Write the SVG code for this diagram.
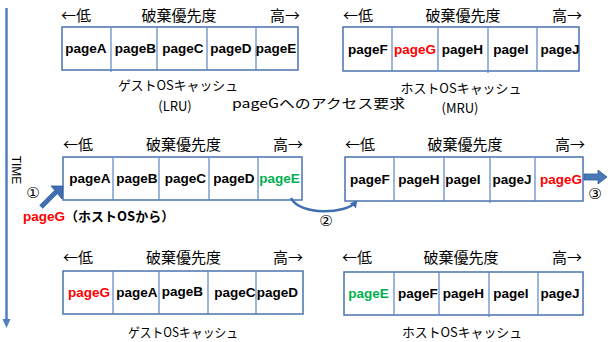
<svg xmlns="http://www.w3.org/2000/svg" width="608" height="342" viewBox="0 0 608 342">
<style>
.box{fill:#fff;stroke:#4a73b0;stroke-width:1.5}
.div{stroke:#5b86c4;stroke-width:1.2}
.pg{font-family:"Liberation Sans",Arial,sans-serif;font-weight:bold;font-size:13.5px;text-anchor:middle;fill:#000}
.red{fill:#ff0000}
.grn{fill:#00b050}
.jp{font-family:"Noto Sans CJK JP","Noto Sans",sans-serif;font-size:13px;fill:#000}
.hd{font-family:"Noto Sans CJK JP","Noto Sans",sans-serif;font-size:15px;fill:#000}
.c{text-anchor:middle}
.e{text-anchor:end}
.num{font-family:"DejaVu Sans","Noto Sans CJK JP",sans-serif;font-size:15px;text-anchor:middle;fill:#000}
.conn{fill:none;stroke:#3f6fb0;stroke-width:2.5}
</style>
<defs>
<marker id="ah" markerWidth="8" markerHeight="8" refX="5" refY="4" orient="auto" markerUnits="userSpaceOnUse">
<path d="M0,0 L7,4 L0,8 Z" fill="#3f6fb0"/>
</marker>
</defs>

<g id="time">
<line x1="6.5" y1="8" x2="6.5" y2="321" stroke="#4f7fc0" stroke-width="2.5"/>
<path d="M2.5,319 L10.5,319 L6.5,328 Z" fill="#4f7fc0"/>
<text transform="translate(12,170) rotate(90)" font-family="Liberation Sans,Arial,sans-serif" font-size="12" text-anchor="middle" fill="#000">TIME</text>
</g>

<g id="guest-top">
<text class="hd" x="61" y="21">←低</text>
<text class="hd c" x="179" y="21">破棄優先度</text>
<text class="hd e" x="300" y="21">高→</text>
<rect class="box" x="62" y="27" width="236" height="43"/>
<line class="div" x1="111" y1="27" x2="111" y2="72"/>
<line class="div" x1="157" y1="27" x2="157" y2="70"/>
<line class="div" x1="207" y1="27" x2="207" y2="70"/>
<line class="div" x1="256" y1="27" x2="256" y2="70"/>
<text class="pg" x="86" y="53">pageA</text>
<text class="pg" x="135.5" y="53">pageB</text>
<text class="pg" x="183" y="53">pageC</text>
<text class="pg" x="231" y="53">pageD</text>
<text class="pg" x="276" y="53">pageE</text>
<text class="jp c" x="178" y="90" textLength="120" lengthAdjust="spacingAndGlyphs">ゲストOSキャッシュ</text>
<text class="jp c" x="175" y="111">(LRU)</text>
</g>

<g id="host-top">
<text class="hd" x="343" y="21">←低</text>
<text class="hd c" x="463" y="21">破棄優先度</text>
<text class="hd e" x="582" y="21">高→</text>
<rect class="box" x="343" y="27" width="236" height="44"/>
<line class="div" x1="392" y1="27" x2="392" y2="71"/>
<line class="div" x1="438" y1="27" x2="438" y2="71"/>
<line class="div" x1="488" y1="27" x2="488" y2="73"/>
<line class="div" x1="537" y1="27" x2="537" y2="71"/>
<text class="pg" x="368" y="54">pageF</text>
<text class="pg red" x="415" y="54">pageG</text>
<text class="pg" x="462.5" y="54">pageH</text>
<text class="pg" x="511" y="54">pageI</text>
<text class="pg" x="560" y="54">pageJ</text>
<text class="jp c" x="461" y="93" textLength="121" lengthAdjust="spacingAndGlyphs">ホストOSキャッシュ</text>
<text class="jp c" x="460" y="113">(MRU)</text>
</g>

<g id="request">
<text class="jp c" x="318.5" y="108" font-size="15" textLength="173" lengthAdjust="spacingAndGlyphs">pageGへのアクセス要求</text>
</g>

<g id="guest-mid">
<text class="hd" x="63" y="150">←低</text>
<text class="hd c" x="183.5" y="150">破棄優先度</text>
<text class="hd e" x="303" y="150">高→</text>
<rect class="box" x="63" y="157" width="239" height="43"/>
<line class="div" x1="113" y1="157" x2="113" y2="200"/>
<line class="div" x1="159" y1="157" x2="159" y2="200"/>
<line class="div" x1="209" y1="157" x2="209" y2="200"/>
<line class="div" x1="258" y1="157" x2="258" y2="200"/>
<text class="pg" x="90" y="183">pageA</text>
<text class="pg" x="137" y="183">pageB</text>
<text class="pg" x="185.5" y="183">pageC</text>
<text class="pg" x="234" y="183">pageD</text>
<text class="pg grn" x="279.5" y="183">pageE</text>
</g>

<g id="host-mid">
<text class="hd" x="345" y="150">←低</text>
<text class="hd c" x="465" y="150">破棄優先度</text>
<text class="hd e" x="585" y="150">高→</text>
<rect class="box" x="345" y="157" width="238" height="44"/>
<line class="div" x1="394" y1="157" x2="394" y2="201"/>
<line class="div" x1="444" y1="157" x2="444" y2="201"/>
<line class="div" x1="490" y1="157" x2="490" y2="203"/>
<line class="div" x1="535" y1="157" x2="535" y2="201"/>
<text class="pg" x="370" y="184">pageF</text>
<text class="pg" x="419" y="184">pageH</text>
<text class="pg" x="463" y="184">pageI</text>
<text class="pg" x="512" y="184">pageJ</text>
<text class="pg red" x="561" y="184">pageG</text>
</g>

<g id="incoming">
<text x="23" y="221" font-family="Liberation Sans,Arial,'Noto Sans CJK JP',sans-serif" font-weight="bold" font-size="13.5"><tspan fill="#ff0000">pageG</tspan><tspan fill="#000" font-family="'Noto Sans CJK JP',sans-serif" font-size="13">（ホストOSから）</tspan></text>
</g>

<g id="guest-bot">
<text class="hd" x="63" y="263">←低</text>
<text class="hd c" x="183.5" y="263">破棄優先度</text>
<text class="hd e" x="303" y="263">高→</text>
<rect class="box" x="63" y="271" width="240" height="43"/>
<line class="div" x1="113" y1="271" x2="113" y2="314"/>
<line class="div" x1="159" y1="271" x2="159" y2="314"/>
<line class="div" x1="208" y1="271" x2="208" y2="314"/>
<line class="div" x1="256" y1="271" x2="256" y2="314"/>
<text class="pg red" x="89" y="297">pageG</text>
<text class="pg" x="137" y="297">pageA</text>
<text class="pg" x="182.5" y="296">pageB</text>
<text class="pg" x="235" y="297">pageC</text>
<text class="pg" x="277.5" y="297">pageD</text>
<text class="jp c" x="183" y="337" textLength="110" lengthAdjust="spacingAndGlyphs">ゲストOSキャッシュ</text>
</g>

<g id="host-bot">
<text class="hd" x="342" y="263">←低</text>
<text class="hd c" x="461" y="263">破棄優先度</text>
<text class="hd e" x="582" y="263">高→</text>
<rect class="box" x="344" y="272" width="239" height="43"/>
<line class="div" x1="394" y1="272" x2="394" y2="315"/>
<line class="div" x1="439" y1="272" x2="439" y2="315"/>
<line class="div" x1="489" y1="272" x2="489" y2="317"/>
<line class="div" x1="538" y1="272" x2="538" y2="315"/>
<text class="pg grn" x="368.5" y="298">pageE</text>
<text class="pg" x="418" y="298">pageF</text>
<text class="pg" x="463.5" y="298">pageH</text>
<text class="pg" x="511" y="298">pageI</text>
<text class="pg" x="560" y="298">pageJ</text>
<text class="jp c" x="462" y="337" textLength="120" lengthAdjust="spacingAndGlyphs">ホストOSキャッシュ</text>
</g>

<g id="connectors">
<path d="M41,207 L56,192" stroke="#3f6fb0" stroke-width="5" fill="none"/>
<path d="M51,186 L63,186 L62,199 Z" fill="#3f6fb0" stroke="#2f5a96" stroke-width="0.8"/>
<path class="conn" d="M291,198 C300,216 346,214 356,202" marker-end="url(#ah)"/>
<path d="M584,174 L598,174 L598,170 L607,177 L598,184 L598,180 L584,180 Z" fill="#4a78b8" stroke="#2f5a96" stroke-width="0.8"/>
<text class="num" x="33" y="198">①</text>
<text class="num" x="326" y="226">②</text>
<text class="num" x="595" y="199">③</text>
</g>
</svg>
